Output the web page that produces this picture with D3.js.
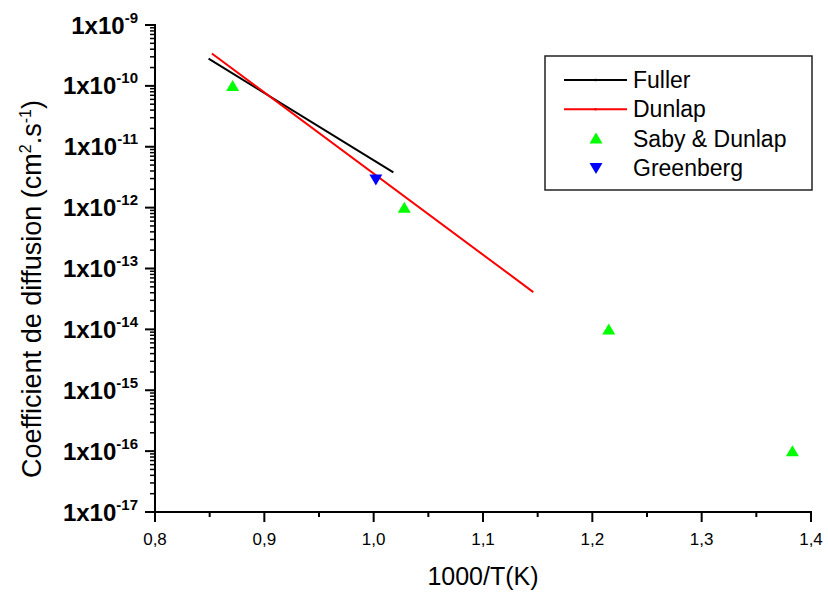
<!DOCTYPE html>
<html>
<head>
<meta charset="utf-8">
<script src="https://cdn.jsdelivr.net/npm/d3@7"></script>
<style>
  body { margin: 0; background: #fff; }
  text { font-family: "Liberation Sans", Arial, sans-serif; fill: #000; }
</style>
</head>
<body>
<svg id="chart" width="828" height="593"></svg>
<script>
// data
const fullerLine = [[0.849, 2.8e-10], [1.018, 3.8e-12]];
const dunlapLine = [[0.852, 3.4e-10], [1.146, 4.1e-14]];
const sabyDunlap = [[0.871, 1e-10], [1.028, 1e-12], [1.215, 1e-14], [1.383, 1e-16]];
const greenberg = [[1.002, 2.9e-12]];

const xTicks = [0.8, 0.9, 1.0, 1.1, 1.2, 1.3, 1.4];
const xMinor = [0.85, 0.95, 1.05, 1.15, 1.25, 1.35];
const yExponents = [-17, -16, -15, -14, -13, -12, -11, -10, -9];

const legendItems = [
  { name: 'Fuller', type: 'line', color: '#000000' },
  { name: 'Dunlap', type: 'line', color: '#ff0000' },
  { name: 'Saby & Dunlap', type: 'up', color: '#00ff00' },
  { name: 'Greenberg', type: 'down', color: '#0000ff' }
];

const svg = d3.select('#chart');

const x = d3.scaleLinear().domain([0.8, 1.4]).range([155, 811]);
const y = d3.scaleLog().domain([1e-17, 1e-9]).range([512, 25]);

// triangles
const triUp = 'M0,-6L6.5,5L-6.5,5Z';
const triDown = 'M0,6L6.5,-5L-6.5,-5Z';

// lines
const line = d3.line().x(d => x(d[0])).y(d => y(d[1]));
svg.append('path').datum(fullerLine).attr('d', line)
  .attr('fill', 'none').attr('stroke', '#000').attr('stroke-width', 2);
svg.append('path').datum(dunlapLine).attr('d', line)
  .attr('fill', 'none').attr('stroke', '#ff0000').attr('stroke-width', 2);

svg.selectAll('.saby').data(sabyDunlap).join('path')
  .attr('class', 'saby')
  .attr('d', triUp)
  .attr('transform', d => `translate(${x(d[0])},${y(d[1])})`)
  .attr('fill', '#00ff00');

svg.selectAll('.green').data(greenberg).join('path')
  .attr('class', 'green')
  .attr('d', triDown)
  .attr('transform', d => `translate(${x(d[0])},${y(d[1])})`)
  .attr('fill', '#0000ff');

// x axis
const gx = svg.append('g').attr('transform', `translate(0,${y(1e-17)})`);
gx.append('line').attr('x1', x(0.8) - 1).attr('x2', x(1.4) + 1)
  .attr('stroke', '#000').attr('stroke-width', 2);
gx.selectAll('.maj').data(xTicks).join('line')
  .attr('x1', d => x(d)).attr('x2', d => x(d)).attr('y1', 0).attr('y2', 10)
  .attr('stroke', '#000').attr('stroke-width', 2);
gx.selectAll('.min').data(xMinor).join('line')
  .attr('x1', d => x(d)).attr('x2', d => x(d)).attr('y1', 0).attr('y2', 5)
  .attr('stroke', '#000').attr('stroke-width', 2);
gx.selectAll('.lbl').data(xTicks).join('text')
  .attr('x', d => x(d)).attr('y', 33)
  .attr('text-anchor', 'middle')
  .style('font-size', '17px')
  .text(d => d.toFixed(1).replace('.', ','));

// y axis
const gy = svg.append('g').attr('transform', `translate(${x(0.8)},0)`);
gy.append('line').attr('y1', y(1e-17) + 1).attr('y2', y(1e-9) - 1)
  .attr('stroke', '#000').attr('stroke-width', 2);
const minorY = [];
yExponents.slice(0, -1).forEach(e => {
  for (let k = 2; k <= 9; k++) minorY.push(k * Math.pow(10, e));
});
gy.selectAll('.ymin').data(minorY).join('line')
  .attr('x1', 0).attr('x2', -5).attr('y1', d => y(d)).attr('y2', d => y(d))
  .attr('stroke', '#000').attr('stroke-width', 1.5);
gy.selectAll('.ymaj').data(yExponents).join('line')
  .attr('x1', 0).attr('x2', -10)
  .attr('y1', d => y(Math.pow(10, d))).attr('y2', d => y(Math.pow(10, d)))
  .attr('stroke', '#000').attr('stroke-width', 2);

const ylbl = svg.selectAll('.ylbl').data(yExponents).join('text')
  .attr('class', 'ylbl')
  .attr('x', 138)
  .attr('y', d => y(Math.pow(10, d)) + 8.5)
  .attr('text-anchor', 'end')
  .style('font-size', '24px')
  .style('font-weight', 'bold');
ylbl.append('tspan').text('1x10');
ylbl.append('tspan').attr('dy', -11).style('font-size', '15px').text(d => String(d));

// axis titles
svg.append('text')
  .attr('x', 483).attr('y', 585)
  .attr('text-anchor', 'middle')
  .style('font-size', '25px')
  .text('1000/T(K)');

const yt = svg.append('text')
  .attr('transform', 'translate(41,289) rotate(-90)')
  .attr('text-anchor', 'middle')
  .style('font-size', '27px');
yt.append('tspan').text('Coefficient de diffusion (cm');
yt.append('tspan').attr('dy', -10).style('font-size', '16px').text('2');
yt.append('tspan').attr('dy', 10).text('.s');
yt.append('tspan').attr('dy', -10).style('font-size', '16px').text('-1');
yt.append('tspan').attr('dy', 10).text(')');

// legend
const lg = svg.append('g');
lg.append('rect').attr('x', 545).attr('y', 56).attr('width', 267).attr('height', 134)
  .attr('fill', '#fff').attr('stroke', '#222').attr('stroke-width', 1.5);
const rows = lg.selectAll('.row').data(legendItems).join('g')
  .attr('transform', (d, i) => `translate(0,${80 + i * 29.3})`);
rows.filter(d => d.type === 'line').append('line')
  .attr('x1', 564).attr('x2', 627).attr('stroke', d => d.color).attr('stroke-width', 2);
rows.filter(d => d.type === 'line').append('circle')
  .attr('cx', 595.5).attr('r', 1.3).attr('fill', d => d.color);
rows.filter(d => d.type !== 'line').append('path')
  .attr('d', d => d.type === 'up' ? triUp : triDown)
  .attr('transform', 'translate(596,0)')
  .attr('fill', d => d.color);
rows.append('text')
  .attr('x', 633).attr('y', 8)
  .style('font-size', '23px')
  .text(d => d.name);
</script>
</body>
</html>
